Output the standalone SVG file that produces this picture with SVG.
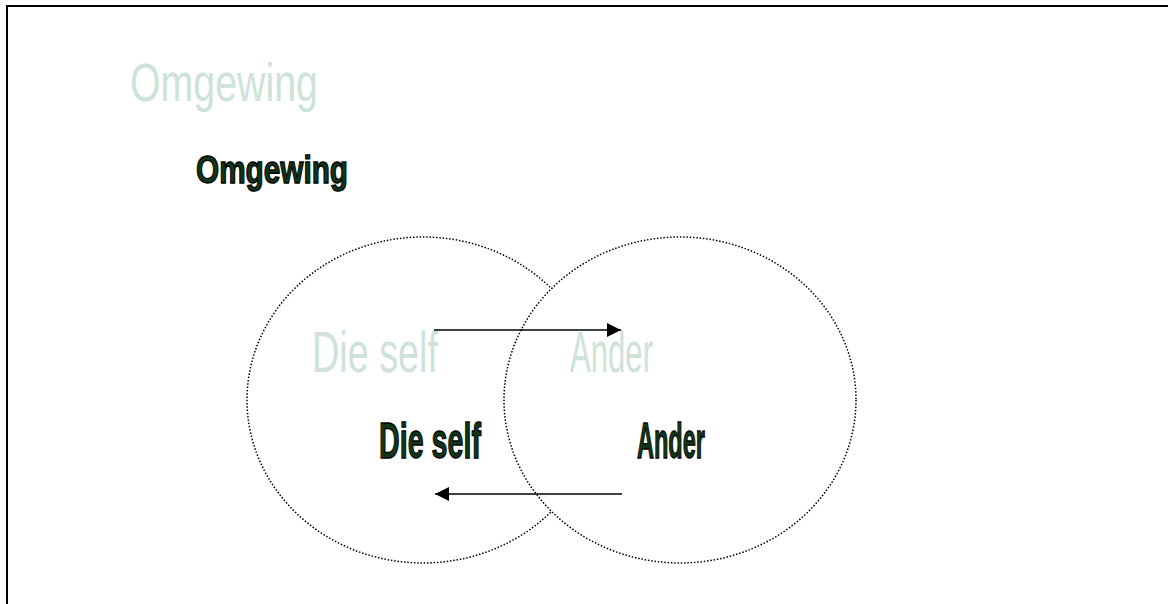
<svg xmlns="http://www.w3.org/2000/svg" width="1168" height="604" viewBox="0 0 1168 604">
<style>
.faded{font-family:"Liberation Sans",Arial,sans-serif;fill:#cde3d8;}
.bold{font-family:"Liberation Sans",Arial,sans-serif;font-weight:bold;fill:#10361a;stroke:#000;stroke-width:1.3;}
.circ{stroke:#000;stroke-width:1.5;stroke-dasharray:1.5 1.8;}
.conn{stroke:#000;stroke-width:1.6;fill:none;}
</style>
<defs>
<marker id="ah" viewBox="0 0 10 10" refX="10" refY="5" markerWidth="15" markerHeight="14" markerUnits="userSpaceOnUse" orient="auto">
<path d="M0,0 L10,5 L0,10 z" fill="#000"/>
</marker>
</defs>
<rect width="1168" height="604" fill="#fff"/>
<path d="M7,604 V6 H1168" fill="none" stroke="#000" stroke-width="2"/>
<g id="omgewing">
<text class="faded" x="130" y="101" font-size="54" textLength="188" lengthAdjust="spacingAndGlyphs">Omgewing</text>
<text class="bold" x="196" y="183" font-size="38" textLength="152" lengthAdjust="spacingAndGlyphs">Omgewing</text>
</g>
<g id="die-self">
<ellipse class="circ" cx="423" cy="400" rx="176" ry="163" fill="#fff"/>
</g>
<g id="ander">
<ellipse class="circ" cx="680" cy="400" rx="176" ry="163" fill="#fff"/>
</g>
<g id="labels">
<text class="faded" x="312" y="372" font-size="58" textLength="126" lengthAdjust="spacingAndGlyphs">Die self</text>
<text class="faded" x="570" y="372" font-size="58" textLength="83" lengthAdjust="spacingAndGlyphs">Ander</text>
<text class="bold" x="379" y="458" font-size="50" textLength="102" lengthAdjust="spacingAndGlyphs">Die self</text>
<text class="bold" x="637" y="458" font-size="50" textLength="68" lengthAdjust="spacingAndGlyphs">Ander</text>
</g>
<g id="connectors">
<line class="conn" x1="434" y1="330" x2="621" y2="330" marker-end="url(#ah)"/>
<line class="conn" x1="622" y1="494" x2="435" y2="494" marker-end="url(#ah)"/>
</g>
</svg>
